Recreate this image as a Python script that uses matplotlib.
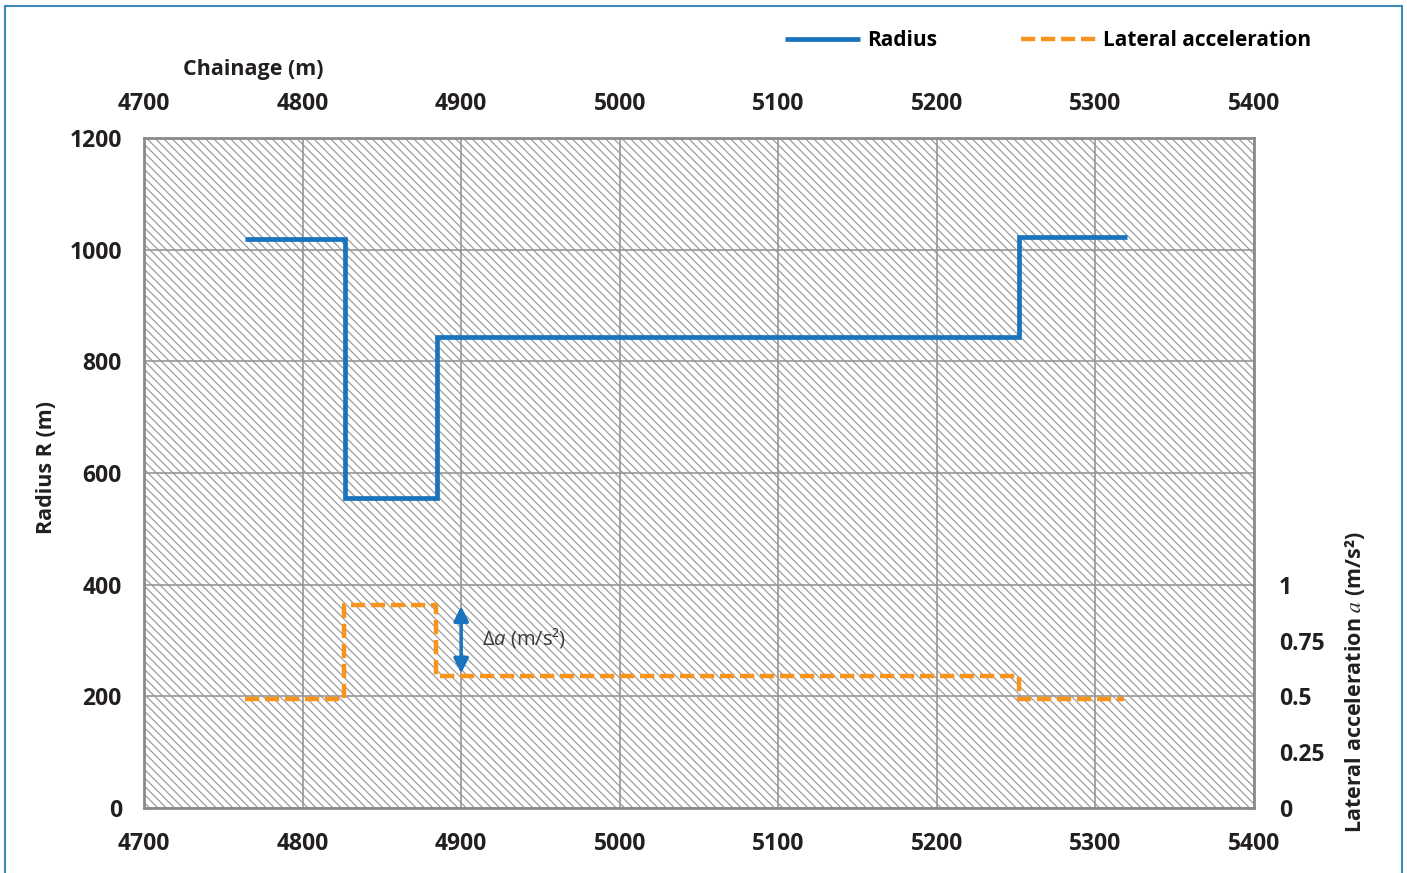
import matplotlib
matplotlib.use("Agg")
import matplotlib.pyplot as plt
from matplotlib.patches import Rectangle

plt.rcParams["font.family"] = ["Open Sans", "DejaVu Sans"]
plt.rcParams["mathtext.fontset"] = "custom"
plt.rcParams["mathtext.it"] = "Open Sans:italic"
plt.rcParams["mathtext.rm"] = "Open Sans"
plt.rcParams["hatch.linewidth"] = 0.85

# chainage breakpoints (m) and radius of each section (m)
radius_x = [4764, 4827, 4885, 5252, 5320]
radius_r = [1020, 555, 844, 1023, 1023]

# chainage breakpoints (m) and lateral acceleration (m/s^2)
acc_x = [4764, 4826, 4884, 5252, 5318]
acc_a = [0.49, 0.91, 0.59, 0.49, 0.49]

x_ticks = [4700, 4800, 4900, 5000, 5100, 5200, 5300, 5400]
r_ticks = [0, 200, 400, 600, 800, 1000, 1200]
a_ticks = [0, 0.25, 0.5, 0.75, 1]

blue = "#1a73bd"
orange = "#f7941d"
grey = "#979797"
text_col = "#231f20"
fs = 15.5
tfs = 16.5

fig = plt.figure(figsize=(14.07, 8.73), dpi=100)
ax = fig.add_axes([144 / 1407, 65 / 873, 1110 / 1407, 670 / 873])

# hatched plot background
bg = Rectangle((0, 0), 1, 1, transform=ax.transAxes, facecolor="white",
               edgecolor="#989898", lw=0, hatch="\\\\\\\\", zorder=0)
ax.add_patch(bg)

ax.set_xlim(4700, 5400)
ax.set_ylim(0, 1200)
ax.set_xticks(x_ticks)
ax.set_yticks(r_ticks)
ax.grid(True, color=grey, lw=1.2)
ax.set_axisbelow(True)
for s in ax.spines.values():
    s.set_color("#8a8a8a")
    s.set_linewidth(2.0)
ax.tick_params(length=0, labelsize=tfs, colors=text_col)
ax.tick_params(axis="x", pad=17)
ax.tick_params(axis="y", pad=16)
for lab in ax.get_xticklabels() + ax.get_yticklabels():
    lab.set_fontweight("bold")

l1, = ax.step(radius_x, radius_r, where="post", color=blue, lw=3.4,
              solid_capstyle="butt", solid_joinstyle="miter", zorder=3)

# right axis: lateral acceleration
ax2 = ax.twinx()
ax2.set_ylim(0, 3)
ax2.set_yticks(a_ticks)
ax2.set_yticklabels(["0", "0.25", "0.5", "0.75", "1"])
ax2.tick_params(length=0, labelsize=tfs, colors=text_col, pad=18)
for lab in ax2.get_yticklabels():
    lab.set_fontweight("bold")
for s in ax2.spines.values():
    s.set_visible(False)

l2, = ax2.step(acc_x, acc_a, where="post", color=orange, lw=3.2,
               dashes=(3.2, 1.3), dash_capstyle="butt", zorder=3)

ax2.annotate("", xy=(4900, acc_a[2]), xytext=(4900, acc_a[1]),
             arrowprops=dict(arrowstyle="<|-|>", color=blue, lw=2.5,
                             mutation_scale=22, shrinkA=1, shrinkB=2))
ax2.text(4913, 0.76, "Δ$a$ (m/s²)", fontsize=14.5, color="#3a3a3a",
         va="center", ha="left")

# top axis repeats the chainage ticks
ax3 = ax.twiny()
ax3.set_xlim(ax.get_xlim())
ax3.set_xticks(x_ticks)
ax3.tick_params(length=0, labelsize=tfs, colors=text_col, pad=16)
for lab in ax3.get_xticklabels():
    lab.set_fontweight("bold")
for s in ax3.spines.values():
    s.set_visible(False)

fig.text(253 / 1407, 1 - 70 / 873, "Chainage (m)", fontsize=fs,
         fontweight="bold", color=text_col, ha="center", va="center")
fig.text(47 / 1407, 1 - 468 / 873, "Radius R (m)", fontsize=fs,
         fontweight="bold", color=text_col, ha="center", va="center",
         rotation=90)
fig.text(1355 / 1407, 1 - 682 / 873, "Lateral acceleration $a$ (m/s²)",
         fontsize=fs, fontweight="bold", color=text_col, ha="center",
         va="center", rotation=90, math_fontfamily="stix")

fig.legend([l1, l2], ["Radius", "Lateral acceleration"], ncol=2,
           loc="center left", bbox_to_anchor=(785 / 1407, 1 - 41 / 873),
           frameon=False, handlelength=3.6, handletextpad=0.35,
           columnspacing=4.0, borderaxespad=0, borderpad=0,
           prop={"weight": "bold", "size": 15})

# outer frame
fig.add_artist(Rectangle((5 / 1407, -0.02), 1397 / 1407, 1.02 - 6 / 873,
                         transform=fig.transFigure, fill=False,
                         edgecolor="#3d86b8", lw=1.5))

fig.savefig("out.png", dpi=100)
plt.close("all")
